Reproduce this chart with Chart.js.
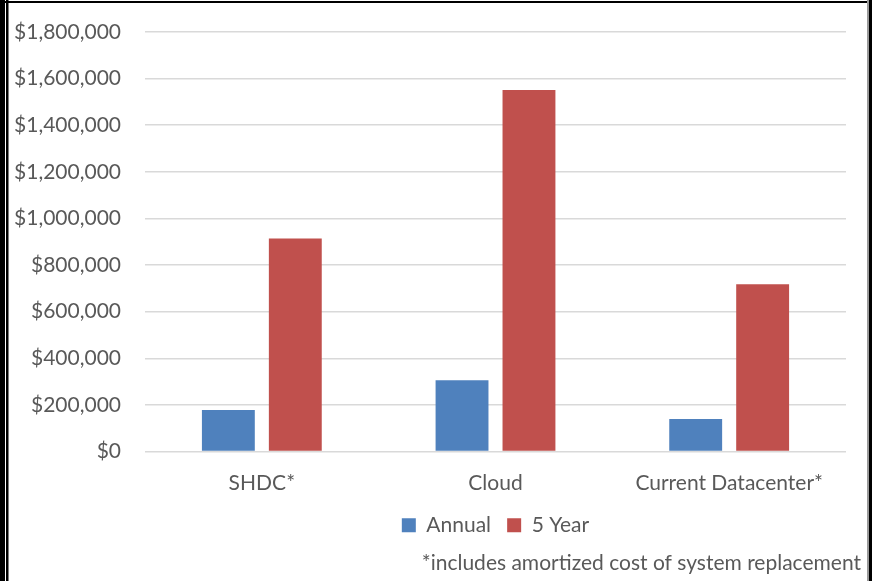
<!DOCTYPE html>
<html>
<head>
<meta charset="utf-8">
<script src="https://cdn.jsdelivr.net/npm/chart.js@4"></script>
<style>
  body { margin: 0; background: #fff; }
  #wrap { width: 872px; height: 581px; }
</style>
</head>
<body>
<div id="wrap"><canvas id="costChart"></canvas></div>
<script>
var categories = ["SHDC*", "Cloud", "Current Datacenter*"];
var annualCost = [178000, 306000, 140000];
var fiveYearCost = [914000, 1551000, 718000];
var footnote = "*includes amortized cost of system replacement";

var textColor = "#595959";
var baseFont = { family: "Lato, 'Noto Sans', sans-serif", size: 21 };

// black picture frame around the whole chart
var framePlugin = {
  id: "frame",
  afterDraw: function (chart) {
    var c = chart.ctx;
    c.save();
    c.fillStyle = "#000";
    c.fillRect(0, 0, 5, 581);
    c.fillRect(6, 0, 2.5, 581);
    c.fillRect(0, 1, 872, 2);
    c.fillStyle = "#9a9a9a";
    c.fillRect(867, 0, 2, 581);
    c.fillStyle = "#000";
    c.fillRect(869, 0, 3, 581);
    c.restore();
  },
};

var ctx = document.getElementById("costChart").getContext("2d");

var myChart = new Chart(ctx, {
  type: "bar",
  data: {
    labels: categories,
    datasets: [
      {
        label: "Annual",
        data: annualCost,
        backgroundColor: "#4f81bd",
        categoryPercentage: 0.573,
        barPercentage: 0.79,
      },
      {
        label: "5 Year",
        data: fiveYearCost,
        backgroundColor: "#c0504d",
        categoryPercentage: 0.573,
        barPercentage: 0.79,
      },
    ],
  },
  options: {
    responsive: true,
    maintainAspectRatio: false,
    animation: false,
    layout: { padding: { top: 32, right: 11, left: 10, bottom: 5 } },
    scales: {
      y: {
        min: 0,
        max: 1800000,
        ticks: {
          stepSize: 200000,
          color: textColor,
          font: baseFont,
          padding: 24,
          callback: function (v) { return "$" + v.toLocaleString("en-US"); },
        },
        grid: { color: "#d9d9d9", lineWidth: 1.5, drawTicks: false },
        border: { display: false },
        afterFit: function (s) {
          s.width = 135;
          s.paddingTop = 0;
          s.paddingBottom = 0;
        },
      },
      // empty spacer on the right so the footnote can run past the plot
      y2: {
        position: "right",
        display: true,
        ticks: { display: false },
        grid: { display: false, drawTicks: false },
        border: { display: false },
        afterFit: function (s) {
          s.width = 15;
          s.paddingTop = 0;
          s.paddingBottom = 0;
        },
      },
      x: {
        ticks: { color: textColor, font: baseFont, padding: 19 },
        grid: { display: false, drawTicks: false },
        border: { display: false },
      },
    },
    plugins: {
      legend: {
        position: "bottom",
        fullSize: false,
        labels: {
          color: textColor,
          font: baseFont,
          boxWidth: 14,
          boxHeight: 14,
          padding: 0,
          generateLabels: function (chart) {
            var items = Chart.defaults.plugins.legend.labels.generateLabels(chart);
            items.forEach(function (it, i) {
              if (i < items.length - 1) it.text = it.text + "   ";
            });
            return items;
          },
        },
      },
      title: {
        display: true,
        text: footnote,
        position: "bottom",
        align: "end",
        color: textColor,
        font: { family: baseFont.family, size: 21, weight: "normal" },
        padding: { top: 5, bottom: 0 },
      },
      tooltip: { enabled: false },
    },
  },
  plugins: [framePlugin],
});
</script>
</body>
</html>
